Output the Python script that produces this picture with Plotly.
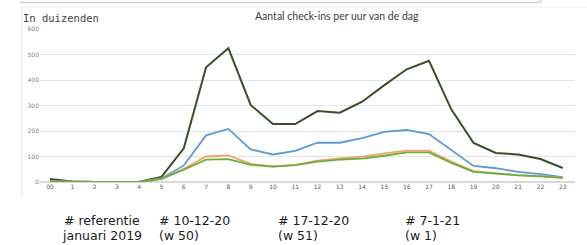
import plotly.graph_objects as go

hours = list(range(24))
hour_labels = ["00"] + [str(h) for h in range(1, 24)]

ref_2019 = [12, 2, 0, 0, 1, 20, 132, 450, 525, 302, 227, 227, 278, 272, 315, 380, 442, 475, 285, 153, 114, 108, 90, 55]
w50 = [3, 0, 0, 0, 0, 14, 65, 183, 208, 128, 108, 122, 154, 154, 172, 197, 204, 188, 125, 63, 54, 40, 31, 19]
w51 = [2, 0, 0, 0, 0, 12, 52, 100, 104, 71, 61, 67, 84, 93, 99, 112, 123, 123, 80, 43, 34, 27, 23, 17]
w1 = [2, 0, 0, 0, 0, 12, 48, 88, 90, 67, 60, 66, 80, 88, 92, 103, 116, 116, 75, 40, 32, 26, 22, 16]

series_line1 = ["# referentie", "# 10-12-20", "# 17-12-20", "# 7-1-21"]
series_line2 = ["januari 2019", "(w 50)", "(w 51)", "(w 1)"]
series_values = [ref_2019, w50, w51, w1]
series_colors = ["#3b4f27", "#5b9bd5", "#f0a469", "#6aad3f"]
series_widths = [2, 1.8, 1.8, 1.8]

y_ticks = [0, 100, 200, 300, 400, 500, 600]

fig = go.Figure()
for n1, n2, vals, col, w in zip(series_line1, series_line2, series_values, series_colors, series_widths):
    fig.add_trace(go.Scatter(x=hours, y=vals, mode="lines", name=n1 + " " + n2,
                             line=dict(color=col, width=w)))

W, H = 587, 245
L, R, T, B = 40, 12, 29, 63
pw, ph = W - L - R, H - T - B

def px(x):
    return (x - L) / pw

def py(y):
    return (H - B - y) / ph

fig.update_layout(
    width=W, height=H,
    margin=dict(l=L, r=R, t=T, b=B),
    paper_bgcolor="white", plot_bgcolor="white",
    showlegend=False,
    xaxis=dict(range=[-0.45, 23.55], tickmode="array", tickvals=hours, ticktext=hour_labels,
               showgrid=False, zeroline=False, showline=False, ticks="",
               tickfont=dict(size=6, color="#595959", family="DejaVu Sans")),
    yaxis=dict(range=[0, 600], tickvals=y_ticks, showgrid=True, gridcolor="#e4e4e4",
               gridwidth=1, zeroline=True, zerolinecolor="#d9d9d9", showline=False, ticks="",
               tickfont=dict(size=6, color="#7f7f7f", family="DejaVu Sans")),
)

ann = []
ann.append(dict(text="Aantal check-ins per uur van de dag", x=px(337), y=py(16), xref="paper", yref="paper",
                showarrow=False, font=dict(size=10.5, color="#404040", family="Lato"),
                xanchor="center", yanchor="middle"))
ann.append(dict(text="In duizenden", x=px(21), y=py(18), xref="paper", yref="paper",
                showarrow=False, font=dict(size=10.5, color="#444444", family="DejaVu Sans Mono"),
                xanchor="left", yanchor="middle"))
legend_x1 = [62, 157, 276, 403]
legend_x2 = [60, 157, 276, 403]
for n1, n2, x1, x2 in zip(series_line1, series_line2, legend_x1, legend_x2):
    ann.append(dict(text=n1, x=px(x1), y=py(220), xref="paper", yref="paper",
                    showarrow=False, font=dict(size=12.5, color="#1a1a1a", family="DejaVu Sans"),
                    xanchor="left", yanchor="middle"))
    ann.append(dict(text=n2, x=px(x2), y=py(235), xref="paper", yref="paper",
                    showarrow=False, font=dict(size=12.5, color="#1a1a1a", family="DejaVu Sans"),
                    xanchor="left", yanchor="middle"))
fig.update_layout(annotations=ann)

shapes = [
    dict(type="line", xref="paper", yref="paper", x0=px(20), x1=px(541), y0=py(2.5), y1=py(2.5),
         line=dict(color="#d0d0d0", width=1.5)),
    dict(type="line", xref="paper", yref="paper", x0=px(541), x1=px(541), y0=py(0), y1=py(2.5),
         line=dict(color="#d0d0d0", width=1.5)),
    dict(type="line", xref="paper", yref="paper", x0=px(22), x1=px(22), y0=py(6), y1=py(196),
         line=dict(color="#e6e6e6", width=1)),
    dict(type="line", xref="paper", yref="paper", x0=px(22), x1=px(587), y0=py(7), y1=py(7),
         line=dict(color="#efefef", width=1)),
]
fig.update_layout(shapes=shapes)

fig.write_html("out.html", config={"displayModeBar": False},
               post_script="document.body.style.margin='0px';")
